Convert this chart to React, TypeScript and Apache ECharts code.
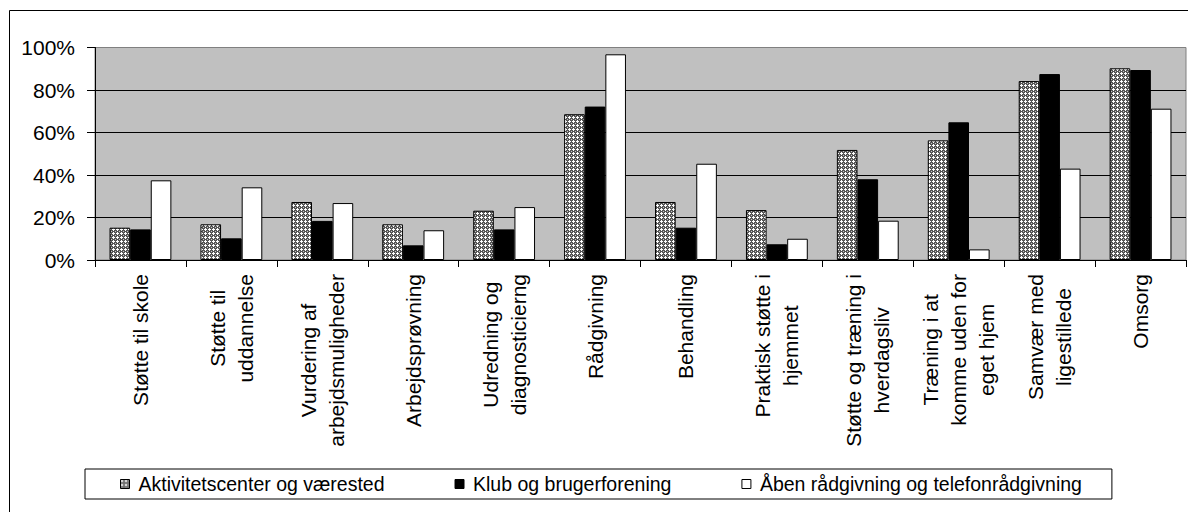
import React, { useEffect, useRef } from "react";
import * as echarts from "echarts";

const categories: string[] = [
  "Støtte til skole",
  "Støtte til\nuddannelse",
  "Vurdering af\narbejdsmuligheder",
  "Arbejdsprøvning",
  "Udredning og\ndiagnosticierng",
  "Rådgivning",
  "Behandling",
  "Praktisk støtte i\nhjemmet",
  "Støtte og træning i\nhverdagsliv",
  "Træning i at\nkomme uden for\neget hjem",
  "Samvær med\nligestillede",
  "Omsorg",
];

const seriesNames: string[] = [
  "Aktivitetscenter og værested",
  "Klub og brugerforening",
  "Åben rådgivning og telefonrådgivning",
];

const aktivitet: number[] = [15.2, 16.8, 27.3, 16.8, 23.2, 68.6, 27.3, 23.5, 51.8, 56.3, 84.2, 90.2];
const klub: number[] = [14.4, 10.2, 18.4, 6.9, 14.4, 72.2, 15.2, 7.4, 38.0, 64.8, 87.5, 89.4];
const aaben: number[] = [37.5, 34.2, 26.8, 14.0, 24.9, 96.8, 45.3, 10.0, 18.5, 5.0, 43.0, 71.2];

const yTicks: number[] = [0, 20, 40, 60, 80, 100];

const FONT = "Liberation Sans, Arial, sans-serif";

function makePattern(): string {
  const c = document.createElement("canvas");
  c.width = 4;
  c.height = 4;
  const ctx = c.getContext("2d")!;
  ctx.fillStyle = "#555555";
  ctx.fillRect(0, 0, 4, 4);
  ctx.fillStyle = "#ffffff";
  ctx.fillRect(1, 0, 1, 1);
  ctx.fillRect(0, 1, 3, 1);
  ctx.fillRect(1, 2, 1, 1);
  ctx.fillStyle = "#c8c8c8";
  ctx.fillRect(3, 3, 1, 1);
  return c.toDataURL();
}

export default function App() {
  const ref = useRef<HTMLDivElement>(null);
  useEffect(() => {
    if (!ref.current) return;
    const chart = echarts.init(ref.current, undefined, { renderer: "svg" });
    const pattern = { image: makePattern(), repeat: "repeat" };
    const barStyle = (color: any) => ({ color, borderColor: "#000", borderWidth: 1 });
    const option: any = {
      animation: false,
      backgroundColor: "#ffffff",
      textStyle: { fontFamily: FONT },
      graphic: [
        {
          type: "rect",
          shape: { x: 9.5, y: 10.5, width: 1300, height: 700 },
          style: { fill: "none", stroke: "#000", lineWidth: 1 },
          silent: true,
          z: 100,
        },
      ],
      grid: {
        left: 95,
        top: 47.5,
        width: 1091,
        height: 212.5,
        show: true,
        backgroundColor: "#c0c0c0",
        borderColor: "#808080",
        borderWidth: 1,
      },
      legend: {
        left: 85,
        top: 469,
        padding: [5, 30, 5, 35],
        itemGap: 70,
        itemWidth: 9,
        itemHeight: 9,
        icon: "rect",
        backgroundColor: "#ffffff",
        borderColor: "#000",
        borderWidth: 1,
        itemStyle: { borderColor: "#000", borderWidth: 1 },
        textStyle: { fontFamily: FONT, fontSize: 19.5, color: "#000", padding: [0, 0, 0, 4] },
        data: seriesNames,
      },
      xAxis: {
        type: "category",
        data: categories,
        axisLine: { show: true, lineStyle: { color: "#000", width: 1 } },
        axisTick: { show: true, length: 7, lineStyle: { color: "#000" } },
        axisLabel: {
          interval: 0,
          rotate: 90,
          margin: 14,
          color: "#000",
          formatter: (v: string) => v.split("\n").map((l) => `{c|${l}}`).join("\n"),
          rich: {
            c: { align: "center", fontSize: 21, lineHeight: 28, fontFamily: FONT, color: "#000" },
          },
        },
      },
      yAxis: {
        type: "value",
        min: yTicks[0],
        max: yTicks[yTicks.length - 1],
        interval: 20,
        axisLine: { show: true, lineStyle: { color: "#000", width: 1 } },
        axisTick: { show: true, length: 8, lineStyle: { color: "#000" } },
        axisLabel: { formatter: "{value}%", fontSize: 21, color: "#000", margin: 20, fontFamily: FONT },
        splitLine: { show: true, showMinLine: false, showMaxLine: false, lineStyle: { color: "#000", width: 1 } },
      },
      series: [
        { name: seriesNames[0], type: "bar", data: aktivitet, barGap: "0%", barCategoryGap: "32%", itemStyle: barStyle(pattern) },
        { name: seriesNames[1], type: "bar", data: klub, barGap: "0%", barCategoryGap: "32%", itemStyle: barStyle("#000000") },
        { name: seriesNames[2], type: "bar", data: aaben, barGap: "0%", barCategoryGap: "32%", itemStyle: barStyle("#ffffff") },
      ],
    };
    chart.setOption(option);
    return () => chart.dispose();
  }, []);
  return (
    <div
      ref={ref}
      style={{ position: "absolute", left: 0, top: 0, width: 1188, height: 512 }}
    />
  );
}
